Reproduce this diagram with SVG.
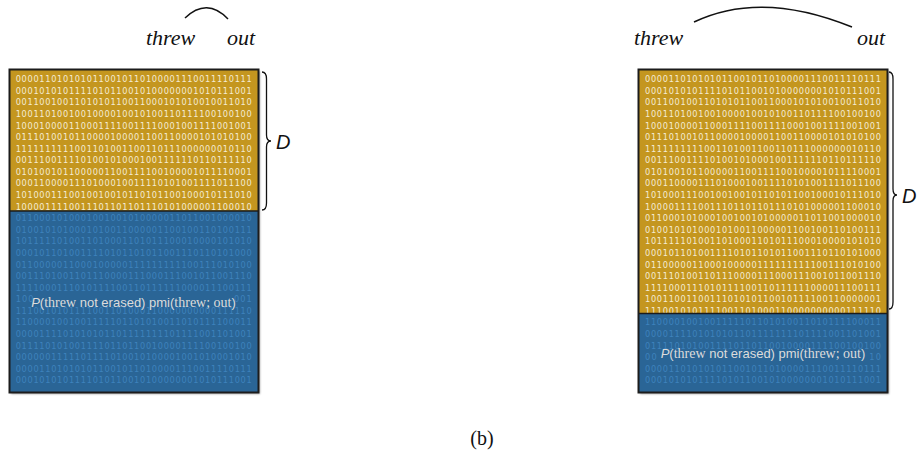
<svg xmlns="http://www.w3.org/2000/svg" width="920" height="466" viewBox="0 0 920 466">
<style>
.bg{fill:#ffffff}
.gold{fill:#C4961F}
.blue{fill:#2A6596}
.frame{fill:none;stroke:#1c1c1c;stroke-width:2}
.shadow{fill:#000;opacity:0.35}
.bg1{font-family:"DejaVu Sans",sans-serif;font-size:8.2px;fill:#F4EBD3}
.bb1{font-family:"DejaVu Sans",sans-serif;font-size:8.2px;fill:#3E82BC}
.lbl{font-family:"Liberation Sans",Arial,sans-serif;font-size:13px;fill:#dcdcdc}
.ser{font-family:"Liberation Serif","Times New Roman",serif;font-size:14px}
.word{font-family:"Liberation Serif","Times New Roman",serif;font-style:italic;font-size:22px;fill:#111}
.dlab{font-family:"Liberation Sans",Arial,sans-serif;font-style:italic;font-size:20px;fill:#111}
.cap{font-family:"Liberation Serif","Times New Roman",serif;font-size:20px;fill:#111}
.arc{fill:none;stroke:#111;stroke-width:1.5}
.brace{fill:none;stroke:#111;stroke-width:1.3}
</style>
<defs>
<filter id="blur" x="-10%" y="-10%" width="120%" height="120%"><feGaussianBlur stdDeviation="1.2"/></filter>
<clipPath id="cgL"><rect x="9.5" y="69.5" width="249" height="141.5"/></clipPath>
<clipPath id="cbL"><rect x="9.5" y="211" width="249" height="181.5"/></clipPath>
<clipPath id="cgR"><rect x="638.5" y="69.5" width="249" height="244"/></clipPath>
<clipPath id="cbR"><rect x="638.5" y="313.5" width="249" height="79"/></clipPath>
</defs>
<rect class="bg" x="0" y="0" width="920" height="466"/>

<g id="connectors">
<path class="arc" d="M185,18 Q207,-3 228,19"/>
<path class="arc" d="M694,22 Q761,-10 852,27"/>
</g>

<g id="left-words">
<text class="word" x="146" y="45">threw</text>
<text class="word" x="227" y="45">out</text>
</g>
<g id="right-words">
<text class="word" x="634" y="45">threw</text>
<text class="word" x="857" y="45">out</text>
</g>

<g id="left-panel">
<rect class="shadow" x="11" y="71" width="249" height="323" filter="url(#blur)"/>
<rect class="gold" x="9.5" y="69.5" width="249" height="141.5"/>
<g clip-path="url(#cgL)">
<text class="bg1" x="15.7" y="82.2" textLength="236" lengthAdjust="spacing">0000110101010110010110100001110011110111</text>
<text class="bg1" x="15.7" y="93.8" textLength="236" lengthAdjust="spacing">0001010101111010110010100000001010111001</text>
<text class="bg1" x="15.7" y="105.4" textLength="236" lengthAdjust="spacing">0011001001101010110011000101010010011010</text>
<text class="bg1" x="15.7" y="116.9" textLength="236" lengthAdjust="spacing">1001101001001000010010100110111100100100</text>
<text class="bg1" x="15.7" y="128.5" textLength="236" lengthAdjust="spacing">1000100001100011110011110001001111001001</text>
<text class="bg1" x="15.7" y="140.1" textLength="236" lengthAdjust="spacing">0111010010110000100001100110000101010100</text>
<text class="bg1" x="15.7" y="151.7" textLength="236" lengthAdjust="spacing">1111111111001101001100110111000000010110</text>
<text class="bg1" x="15.7" y="163.3" textLength="236" lengthAdjust="spacing">0011100111101001010001001111110110111110</text>
<text class="bg1" x="15.7" y="174.8" textLength="236" lengthAdjust="spacing">0101001011000001100111100100001011110001</text>
<text class="bg1" x="15.7" y="186.4" textLength="236" lengthAdjust="spacing">0001100001110100010011110101001111011100</text>
<text class="bg1" x="15.7" y="198.0" textLength="236" lengthAdjust="spacing">1010001110010010010110101100100010111010</text>
<text class="bg1" x="15.7" y="209.6" textLength="236" lengthAdjust="spacing">1000011110011101101101110101000001100010</text>
</g>
<rect class="blue" x="9.5" y="211" width="249" height="181.5"/>
<g clip-path="url(#cbL)">
<text class="bb1" x="15.7" y="221.2" textLength="236" lengthAdjust="spacing">0110001010001001001010000011011001000010</text>
<text class="bb1" x="15.7" y="232.7" textLength="236" lengthAdjust="spacing">0100101010001010011000001100100110100111</text>
<text class="bb1" x="15.7" y="244.3" textLength="236" lengthAdjust="spacing">1011111010011010001101011100010000101010</text>
<text class="bb1" x="15.7" y="255.9" textLength="236" lengthAdjust="spacing">0001011010011110101101011001110110101000</text>
<text class="bb1" x="15.7" y="267.5" textLength="236" lengthAdjust="spacing">0110000011000100000111111111100111010100</text>
<text class="bb1" x="15.7" y="279.1" textLength="236" lengthAdjust="spacing">0011101001101110000111000111001011001110</text>
<text class="bb1" x="15.7" y="290.6" textLength="236" lengthAdjust="spacing">1111000111010111100110111111000011100111</text>
<text class="bb1" x="15.7" y="302.2" textLength="17.7" lengthAdjust="spacing">100</text>
<text class="bb1" x="234" y="302.2" textLength="17.7" lengthAdjust="spacing">001</text>
<text class="bb1" x="15.7" y="313.8" textLength="236" lengthAdjust="spacing">1110010101111001101000110000000000111110</text>
<text class="bb1" x="15.7" y="325.4" textLength="236" lengthAdjust="spacing">1100001001001111101101010011010111100011</text>
<text class="bb1" x="15.7" y="337.0" textLength="236" lengthAdjust="spacing">0000111101010101101111111101111001101001</text>
<text class="bb1" x="15.7" y="348.5" textLength="236" lengthAdjust="spacing">0111101010011110110110010000111100100100</text>
<text class="bb1" x="15.7" y="360.1" textLength="236" lengthAdjust="spacing">0000001111101111010010100001001010001010</text>
<text class="bb1" x="15.7" y="371.7" textLength="236" lengthAdjust="spacing">0000110101010110010110100001110011110111</text>
<text class="bb1" x="15.7" y="383.3" textLength="236" lengthAdjust="spacing">0001010101111010110010100000001010111001</text>
</g>
<line x1="9.5" y1="211" x2="258.5" y2="211" stroke="#1c1c1c" stroke-width="1.5"/>
<rect class="frame" x="9.5" y="69.5" width="249" height="323"/>
<text class="lbl" x="133.5" y="307" text-anchor="middle"><tspan font-style="italic">P</tspan>(<tspan class="ser">threw</tspan> not erased) pmi(<tspan class="ser">threw; out</tspan>)</text>
</g>

<g id="left-brace">
<path class="brace" d="M262,72 Q266.5,72 266.5,79 L266.5,135 Q266.5,141 271,141 Q266.5,141 266.5,147 L266.5,203 Q266.5,210 262,210"/>
<text class="dlab" x="276" y="148.5">D</text>
</g>

<g id="right-panel">
<rect class="shadow" x="640" y="71" width="249" height="323" filter="url(#blur)"/>
<rect class="gold" x="638.5" y="69.5" width="249" height="244"/>
<g clip-path="url(#cgR)">
<text class="bg1" x="645" y="82.2" textLength="236" lengthAdjust="spacing">0000110101010110010110100001110011110111</text>
<text class="bg1" x="645" y="93.8" textLength="236" lengthAdjust="spacing">0001010101111010110010100000001010111001</text>
<text class="bg1" x="645" y="105.4" textLength="236" lengthAdjust="spacing">0011001001101010110011000101010010011010</text>
<text class="bg1" x="645" y="116.9" textLength="236" lengthAdjust="spacing">1001101001001000010010100110111100100100</text>
<text class="bg1" x="645" y="128.5" textLength="236" lengthAdjust="spacing">1000100001100011110011110001001111001001</text>
<text class="bg1" x="645" y="140.1" textLength="236" lengthAdjust="spacing">0111010010110000100001100110000101010100</text>
<text class="bg1" x="645" y="151.7" textLength="236" lengthAdjust="spacing">1111111111001101001100110111000000010110</text>
<text class="bg1" x="645" y="163.3" textLength="236" lengthAdjust="spacing">0011100111101001010001001111110110111110</text>
<text class="bg1" x="645" y="174.8" textLength="236" lengthAdjust="spacing">0101001011000001100111100100001011110001</text>
<text class="bg1" x="645" y="186.4" textLength="236" lengthAdjust="spacing">0001100001110100010011110101001111011100</text>
<text class="bg1" x="645" y="198.0" textLength="236" lengthAdjust="spacing">1010001110010010010110101100100010111010</text>
<text class="bg1" x="645" y="209.6" textLength="236" lengthAdjust="spacing">1000011110011101101101110101000001100010</text>
<text class="bg1" x="645" y="221.2" textLength="236" lengthAdjust="spacing">0110001010001001001010000011011001000010</text>
<text class="bg1" x="645" y="232.7" textLength="236" lengthAdjust="spacing">0100101010001010011000001100100110100111</text>
<text class="bg1" x="645" y="244.3" textLength="236" lengthAdjust="spacing">1011111010011010001101011100010000101010</text>
<text class="bg1" x="645" y="255.9" textLength="236" lengthAdjust="spacing">0001011010011110101101011001110110101000</text>
<text class="bg1" x="645" y="267.5" textLength="236" lengthAdjust="spacing">0110000011000100000111111111100111010100</text>
<text class="bg1" x="645" y="279.1" textLength="236" lengthAdjust="spacing">0011101001101110000111000111001011001110</text>
<text class="bg1" x="645" y="290.6" textLength="236" lengthAdjust="spacing">1111000111010111100110111111000011100111</text>
<text class="bg1" x="645" y="302.2" textLength="236" lengthAdjust="spacing">1001100110011101010110010111100110000001</text>
<text class="bg1" x="645" y="313.8" textLength="236" lengthAdjust="spacing">1110010101111001101000110000000000111110</text>
</g>
<rect class="blue" x="638.5" y="313.5" width="249" height="79"/>
<g clip-path="url(#cbR)">
<text class="bb1" x="645" y="325.4" textLength="236" lengthAdjust="spacing">1100001001001111101101010011010111100011</text>
<text class="bb1" x="645" y="337.0" textLength="236" lengthAdjust="spacing">0000111101010101101111111101111001101001</text>
<text class="bb1" x="645" y="348.5" textLength="236" lengthAdjust="spacing">0111101010011110110110010000111100100100</text>
<text class="bb1" x="645" y="360.1" textLength="11.8" lengthAdjust="spacing">00</text>
<text class="bb1" x="869.2" y="360.1" textLength="11.8" lengthAdjust="spacing">10</text>
<text class="bb1" x="645" y="371.7" textLength="236" lengthAdjust="spacing">0000110101010110010110100001110011110111</text>
<text class="bb1" x="645" y="383.3" textLength="236" lengthAdjust="spacing">0001010101111010110010100000001010111001</text>
</g>
<line x1="638.5" y1="313.5" x2="887.5" y2="313.5" stroke="#1c1c1c" stroke-width="1.5"/>
<rect class="frame" x="638.5" y="69.5" width="249" height="323"/>
<text class="lbl" x="763" y="357.5" text-anchor="middle"><tspan font-style="italic">P</tspan>(<tspan class="ser">threw</tspan> not erased) pmi(<tspan class="ser">threw; out</tspan>)</text>
</g>

<g id="right-brace">
<path class="brace" d="M889,72 Q893,72 893,79 L893,189 Q893,195 897,195 Q893,195 893,201 L893,302 Q893,309 889,309"/>
<text class="dlab" x="902" y="203">D</text>
</g>

<g id="caption">
<text class="cap" x="482" y="445" text-anchor="middle">(b)</text>
</g>
</svg>
